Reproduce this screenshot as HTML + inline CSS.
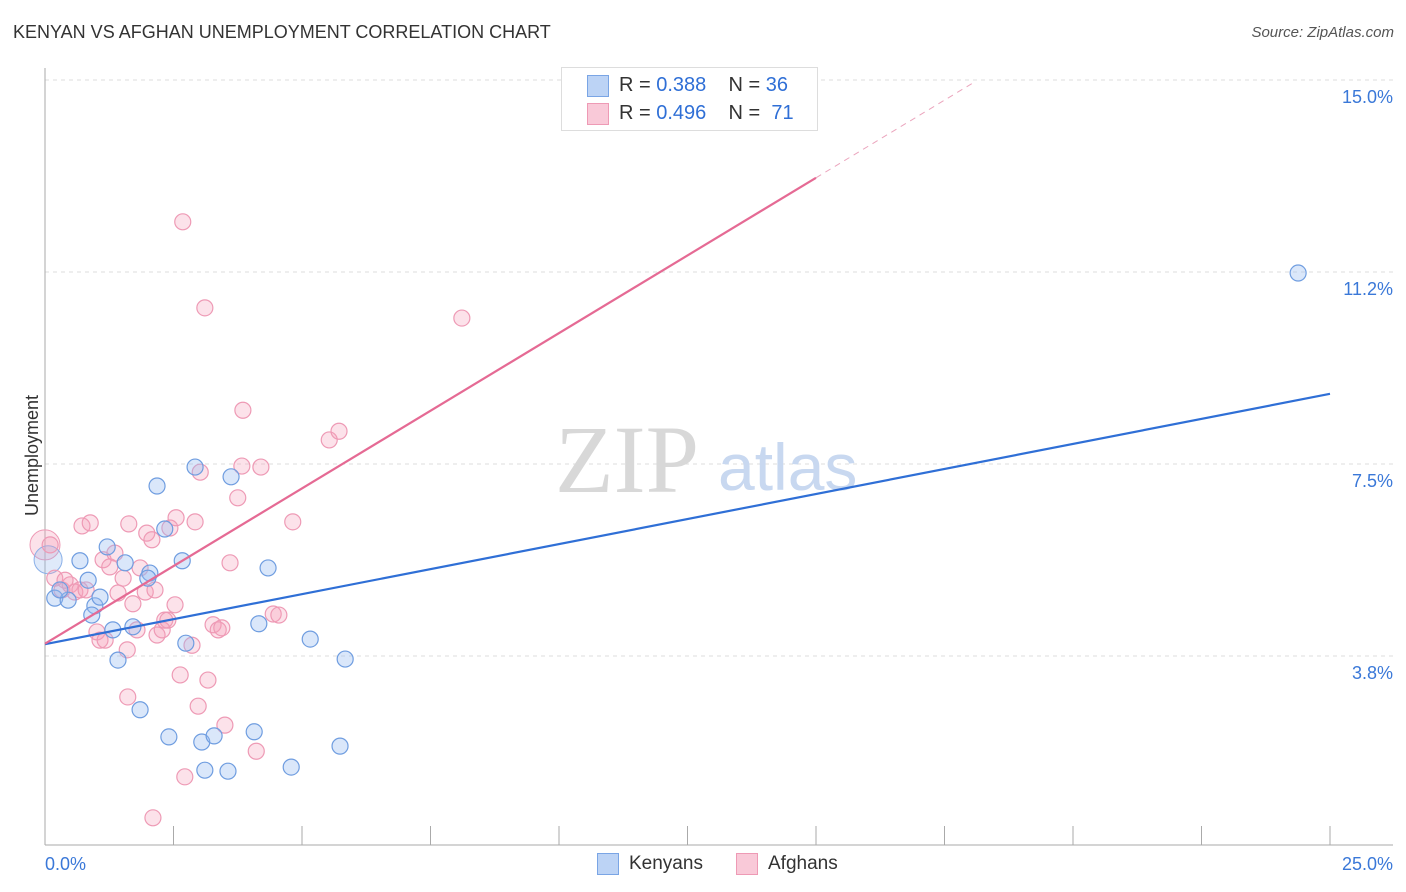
<!DOCTYPE html>
<html><head><meta charset="utf-8"><style>
body{margin:0;background:#fff;font-family:"Liberation Sans",sans-serif;}
#wrap{position:relative;width:1406px;height:892px;overflow:hidden;}
.t{position:absolute;white-space:nowrap;}
</style></head><body>
<div id="wrap">
<div class="t" style="left:13px;top:22px;font-size:18px;color:#333;">KENYAN VS AFGHAN UNEMPLOYMENT CORRELATION CHART</div>
<div class="t" style="right:12px;top:24px;font-size:15px;color:#555;font-style:italic;">Source: ZipAtlas.com</div>
<div class="t" style="left:-28px;top:445px;font-size:18px;color:#333;transform:rotate(-90deg);">Unemployment</div>
<svg id="svg" width="1406" height="892" style="position:absolute;left:0;top:0"></svg>
</div>
<script>
const xTicks=[0,2.5,5,7.5,10,12.5,15,17.5,20,22.5,25];
const yTickVals=[15,11.25,7.5,3.75];
const yTickLabels=["15.0%","11.2%","7.5%","3.8%"];
const kenX=[0.19,0.45,0.68,0.97,1.07,1.21,1.32,1.42,1.56,1.71,1.85,2.04,2.18,2.33,2.41,2.67,2.74,2.92,3.05,3.11,3.29,3.56,3.62,4.07,4.16,4.34,4.79,5.16,5.74,5.84,24.38,0.84,0.91,0.29,2.0];
const kenY=[4.88,4.84,5.61,4.73,4.90,5.88,4.26,3.67,5.57,4.32,2.70,5.37,7.07,6.23,2.17,5.61,4.00,7.44,2.07,1.52,2.19,1.50,7.25,2.27,4.38,5.47,1.58,4.08,1.99,3.69,11.23,5.23,4.55,5.04,5.27];
const afgX=[0.10,0.19,0.33,0.49,0.58,0.72,0.88,1.01,1.07,1.17,1.13,1.26,1.36,1.42,1.52,1.60,1.61,1.63,1.71,1.79,1.85,1.95,1.98,2.08,2.14,2.18,2.28,2.33,2.43,2.53,2.55,2.63,2.68,2.72,2.86,2.92,2.98,3.02,3.11,3.17,3.27,3.37,3.44,3.50,3.60,3.75,3.85,3.83,4.11,4.20,4.44,4.55,4.82,5.53,5.72,8.11,2.10,10.41,0.39,0.68,2.39,0.80];
const afgY=[5.92,5.27,5.04,5.14,5.00,6.29,6.35,4.22,4.06,4.06,5.63,5.49,5.76,4.98,5.27,3.87,2.95,6.33,4.77,4.26,5.47,5.00,6.15,6.02,5.04,4.16,4.26,4.45,6.25,4.75,6.45,3.38,12.23,1.39,3.96,6.37,2.77,7.34,10.55,3.28,4.36,4.26,4.30,2.40,5.57,6.84,8.55,7.46,1.89,7.44,4.57,4.55,6.37,7.97,8.14,10.35,0.59,15.0,5.23,5.04,4.45,5.04];
const bigKen=[0.06,5.63], bigAfg=[0,5.92];
const kenLine=[0,3.98,25,8.87];
const afgLine=[0,3.99,15,13.09,18.1];
const X=v=>45+v*51.4, Y=v=>80+(15-v)*51.2;
const s=document.getElementById('svg');const NS='http://www.w3.org/2000/svg';
function mk(tag,a){const e=document.createElementNS(NS,tag);for(const k in a)e.setAttribute(k,a[k]);s.appendChild(e);return e;}
yTickVals.forEach((v,i)=>{
 let g=mk('line',{x1:45,x2:1393,y1:Y(v),y2:Y(v),stroke:'#ddd','stroke-dasharray':'4,4'});
 
 
 let t=mk('text',{x:1393,y:Y(v)+23,'text-anchor':'end','font-size':18,fill:'#3a78d8','font-family':'Liberation Sans'});t.textContent=yTickLabels[i];
 
 
});
let ax=mk('line',{x1:45,x2:1393,y1:845,y2:845,stroke:'#aaa'});


let ay=mk('line',{x1:45,x2:45,y1:68,y2:845,stroke:'#aaa'});


xTicks.forEach(v=>{let l=mk('line',{x1:X(v),x2:X(v),y1:826,y2:845,stroke:'#aaa'});
 
 });
[["0.0%",45,'start'],["25.0%",1393,'end']].forEach(a=>{let t=mk('text',{x:a[1],y:870,'text-anchor':a[2],'font-size':18,fill:'#3a78d8','font-family':'Liberation Sans'});t.textContent=a[0];
 
 });
let w1=mk('text',{x:555,y:492,'font-size':96,fill:'#d8d8d8','font-family':'Liberation Serif'});w1.textContent='ZIP';


let w2=mk('text',{x:718,y:490,'font-size':66,fill:'#c8d8f0','font-family':'Liberation Sans'});w2.textContent='atlas';


function pts(xs,ys,fill,stroke,name){xs.forEach((x,i)=>{let c=mk('circle',{cx:X(x),cy:Y(ys[i]),r:8,fill:fill,stroke:stroke,'stroke-width':1.2});
 
 });}
let bk=mk('circle',{cx:X(bigAfg[0]),cy:Y(bigAfg[1]),r:15,fill:'rgba(244,160,185,0.3)',stroke:'#ee9ab5'});


let bb=mk('circle',{cx:X(bigKen[0]),cy:Y(bigKen[1]),r:14,fill:'rgba(150,185,240,0.3)',stroke:'#8ab0e8'});


pts(afgX,afgY,'rgba(244,160,185,0.3)','#ee9ab5','afghan-point');
pts(kenX,kenY,'rgba(150,185,240,0.35)','#6f9de0','kenyan-point');
let kl=mk('line',{x1:X(kenLine[0]),y1:Y(kenLine[1]),x2:X(kenLine[2]),y2:Y(kenLine[3]),stroke:'#2f6fd6','stroke-width':2.2});


let al=mk('line',{x1:X(afgLine[0]),y1:Y(afgLine[1]),x2:X(afgLine[2]),y2:Y(afgLine[3]),stroke:'#e56a94','stroke-width':2.2});


const slope=(afgLine[3]-afgLine[1])/afgLine[2];
let ad=mk('line',{x1:X(afgLine[2]),y1:Y(afgLine[3]),x2:X(afgLine[4]),y2:Y(afgLine[1]+slope*afgLine[4]),stroke:'#eba5bd','stroke-width':1,'stroke-dasharray':'6,5'});


</script>
<div class="t" style="left:561px;top:67px;width:255px;height:62px;border:1px solid #ddd;background:#fff;"></div>
<div class="t" style="left:587px;top:75px;width:20px;height:20px;background:#bcd3f5;border:1px solid #7aa5e5;"></div>
<div class="t" style="left:587px;top:103px;width:20px;height:20px;background:#f9c9d8;border:1px solid #ee9ab5;"></div>
<div class="t" style="left:619px;top:74px;font-size:20px;color:#333;">R = <span style="color:#2f6fd6">0.388</span>&nbsp;&nbsp;&nbsp; N = <span style="color:#2f6fd6">36</span></div>
<div class="t" style="left:619px;top:102px;font-size:20px;color:#333;">R = <span style="color:#2f6fd6">0.496</span>&nbsp;&nbsp;&nbsp; N = &nbsp;<span style="color:#2f6fd6">71</span></div>
<div class="t" style="left:597px;top:853px;width:20px;height:20px;background:#bcd3f5;border:1px solid #7aa5e5;"></div>
<div class="t" style="left:629px;top:853px;font-size:19px;color:#333;">Kenyans</div>
<div class="t" style="left:736px;top:853px;width:20px;height:20px;background:#f9c9d8;border:1px solid #ee9ab5;"></div>
<div class="t" style="left:768px;top:853px;font-size:19px;color:#333;">Afghans</div>
</body></html>
